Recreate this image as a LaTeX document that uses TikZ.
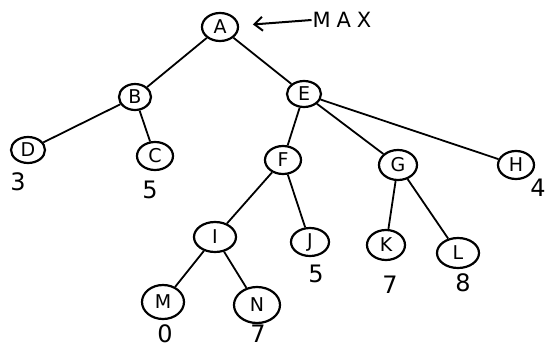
\documentclass[tikz,border=0pt]{standalone}
\usepackage{fontspec}
\setmainfont{DejaVu Sans}
\usetikzlibrary{shapes.geometric,arrows.meta}
\begin{document}
\begin{tikzpicture}[x=1pt,y=-1pt,
  vert/.style={ellipse,draw,line width=2.2pt,inner sep=0pt,font=\fontsize{19}{19}\selectfont},
  edge/.style={line width=1.8pt},
  val/.style={font=\fontsize{24}{24}\selectfont}]
\useasboundingbox (0,0) rectangle (549,351);
% tree nodes
\node[vert,minimum width=36,minimum height=28] (A) at (220,27) {A};
\node[vert,minimum width=32,minimum height=26] (B) at (135,97) {B};
\node[vert,minimum width=34,minimum height=26] (E) at (304,94) {E};
\node[vert,minimum width=34,minimum height=26] (D) at (28,150) {D};
\node[vert,minimum width=36,minimum height=28] (C) at (155,156) {C};
\node[vert,minimum width=36,minimum height=28] (F) at (283,160) {F};
\node[vert,minimum width=38,minimum height=30] (G) at (398,165) {G};
\node[vert,minimum width=36,minimum height=28] (H) at (516,165) {H};
\node[vert,minimum width=42,minimum height=30] (I) at (215,237) {I};
\node[vert,minimum width=38,minimum height=28] (J) at (310,242) {J};
\node[vert,minimum width=38,minimum height=30] (K) at (386,245) {K};
\node[vert,minimum width=42,minimum height=30] (L) at (458,253) {L};
\node[vert,minimum width=42,minimum height=34] (M) at (163,302) {M};
\node[vert,minimum width=46,minimum height=36] (N) at (257,305) {N};
% edges
\draw[edge] (A) -- (B);
\draw[edge] (A) -- (E);
\draw[edge] (B) -- (D);
\draw[edge] (B) -- (C);
\draw[edge] (E) -- (F);
\draw[edge] (E) -- (G);
\draw[edge] (E) -- (H);
\draw[edge] (F) -- (I);
\draw[edge] (F) -- (J);
\draw[edge] (G) -- (K);
\draw[edge] (G) -- (L);
\draw[edge] (I) -- (M);
\draw[edge] (I) -- (N);
% MAX marker
\node[font=\fontsize{21}{21}\selectfont,inner sep=1pt] (max) at (342,20) {M\;A\;X};
\draw[line width=2pt,shorten >=14pt,-{Straight Barb[length=8pt,width=14pt]}] (max.west) -- (A);
% leaf values
\node[val] (vD) at (18,182) {3};
\node[val] (vC) at (150,190) {5};
\node[val] (vJ) at (316,274) {5};
\node[val] (vK) at (390,285) {7};
\node[val] (vL) at (463,283) {8};
\node[val] (vM) at (165,334) {0};
\node[val] (vN) at (258,334) {7};
\node[val] (vH) at (538,188) {4};
\end{tikzpicture}
\end{document}
